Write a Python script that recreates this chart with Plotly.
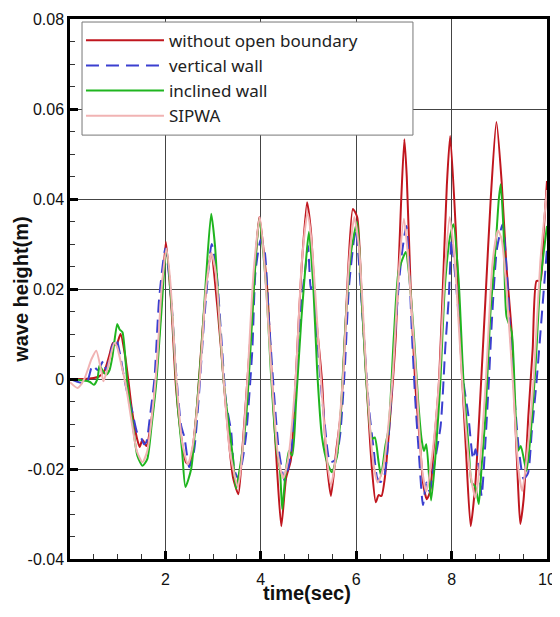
import plotly.graph_objects as go

# ---- data ----
red_t = [0.0, 0.3, 0.6, 0.72, 0.83, 0.9, 0.97, 1.06, 1.15, 1.22, 1.3, 1.4, 1.46, 1.52, 1.6, 1.73, 1.83, 1.91, 2.01,
         2.12, 2.22, 2.33, 2.43, 2.5, 2.57, 2.67, 2.77, 2.88, 2.96,
         3.09, 3.23, 3.34, 3.42, 3.53, 3.61, 3.71, 3.82, 3.92, 3.97,
         4.13, 4.24, 4.34, 4.43, 4.53, 4.63, 4.74, 4.85, 4.97,
         5.05, 5.15, 5.28, 5.37, 5.47, 5.58, 5.68, 5.78, 5.93,
         6.02, 6.12, 6.22, 6.33, 6.41, 6.47, 6.53, 6.6, 6.68, 6.83, 6.94, 7.01,
         7.06, 7.14, 7.24, 7.35, 7.4, 7.48, 7.55, 7.62, 7.73, 7.83, 7.9, 7.97,
         8.09, 8.19, 8.3, 8.4, 8.5, 8.6, 8.71, 8.82, 8.94,
         9.05, 9.15, 9.26, 9.33, 9.39, 9.44, 9.51, 9.61, 9.7, 9.78, 9.86, 9.93, 10.0]
red_y = [0.0, 0.0, 0.0005, 0.0018, 0.0055, 0.008, 0.0075, 0.010, 0.0055, 0.0, -0.007, -0.013, -0.0151, -0.0135, -0.0149, -0.0073, 0.0038, 0.016, 0.0305,
         0.017, -0.0015, -0.0127, -0.0185, -0.019, -0.0155, -0.005, 0.0096, 0.023, 0.028,
         0.016, -0.0015, -0.015, -0.022, -0.0256, -0.016, -0.0015, 0.015, 0.031, 0.036,
         0.0207, -0.0015, -0.02, -0.0327, -0.022, -0.018, 0.0016, 0.024, 0.0393,
         0.033, 0.015, 0.0, -0.017, -0.026, -0.016, -0.0073, 0.013, 0.0378,
         0.036, 0.017, -0.0015, -0.02, -0.0274, -0.0258, -0.026, -0.022, -0.0127, 0.0096, 0.039, 0.0533,
         0.045, 0.0207, -0.0015, -0.016, -0.023, -0.0267, -0.025, -0.016, -0.0015, 0.024, 0.043, 0.054,
         0.0327, 0.0067, -0.0156, -0.0327, -0.023, -0.0044, 0.0178, 0.040, 0.0571,
         0.0437, 0.025, 0.0104, -0.0082, -0.023, -0.0322, -0.0267, -0.008, 0.0067, 0.0218, 0.0218, 0.0327, 0.044]

blue_t = [0.0, 0.34, 0.47, 0.58, 0.7, 0.76, 0.89, 0.97, 1.04, 1.14, 1.2, 1.3, 1.41, 1.5, 1.55, 1.6, 1.68, 1.77, 1.87, 2.0,
          2.12, 2.22, 2.33, 2.4, 2.5, 2.6, 2.7, 2.82, 2.97,
          3.07, 3.17, 3.27, 3.38, 3.44, 3.52, 3.6, 3.69, 3.82, 3.89, 4.0,
          4.08, 4.17, 4.28, 4.38, 4.5, 4.57, 4.64, 4.74, 4.85, 4.95, 4.99,
          5.05, 5.1, 5.18, 5.26, 5.35, 5.4, 5.45, 5.56, 5.66, 5.76, 5.85, 5.99,
          6.05, 6.16, 6.27, 6.37, 6.44, 6.51, 6.58, 6.68, 6.79, 6.89, 6.96, 7.05,
          7.1, 7.17, 7.24, 7.31, 7.4, 7.47, 7.54, 7.62, 7.77, 7.87, 7.94, 8.0,
          8.04, 8.15, 8.25, 8.35, 8.45, 8.5, 8.57, 8.63, 8.7, 8.78, 8.85, 8.95, 9.07,
          9.15, 9.23, 9.32, 9.41, 9.51, 9.6, 9.68, 9.78, 9.89, 10.0]
blue_y = [0.0, -0.001, 0.003, 0.002, 0.004, 0.002, 0.0074, 0.009, 0.006, 0.0, -0.003, -0.007, -0.012, -0.0133, -0.0145, -0.014, -0.008, 0.0, 0.018, 0.029,
          0.018, 0.002, -0.0104, -0.013, -0.0196, -0.016, -0.004, 0.014, 0.030,
          0.024, 0.0096, -0.005, -0.0118, -0.020, -0.022, -0.019, -0.0127, 0.006, 0.024, 0.031,
          0.0285, 0.0133, -0.0037, -0.016, -0.0227, -0.020, -0.016, 0.0, 0.017, 0.026, 0.0296,
          0.020, 0.0215, 0.0096, -0.0015, -0.011, -0.016, -0.0185, -0.018, -0.0127, 0.0022, 0.0207, 0.0333,
          0.027, 0.0096, -0.0067, -0.016, -0.022, -0.0229, -0.022, -0.0127, 0.006, 0.0207, 0.028, 0.034,
          0.027, 0.0096, -0.005, -0.016, -0.028, -0.023, -0.025, -0.020, -0.0104, 0.0074, 0.018, 0.031,
          0.027, 0.014, -0.0007, -0.008, -0.0178, -0.0156, -0.0193, -0.026, -0.0156, -0.0007, 0.014, 0.0289, 0.0344,
          0.025, 0.0104, -0.0044, -0.0156, -0.0222, -0.021, -0.0118, -0.0007, 0.014, 0.0289]

green_t = [0.0, 0.41, 0.5, 0.575, 0.62, 0.7, 0.76, 0.83, 0.89, 0.99, 1.04, 1.1, 1.2, 1.31, 1.41, 1.52, 1.62, 1.71, 1.81, 1.91, 2.02,
           2.15, 2.25, 2.35, 2.42, 2.54, 2.64, 2.75, 2.85, 2.96,
           3.04, 3.13, 3.23, 3.34, 3.42, 3.48, 3.58, 3.69, 3.8, 3.9, 3.97,
           4.11, 4.22, 4.32, 4.4, 4.45, 4.51, 4.59, 4.66, 4.74, 4.85, 4.95, 5.01,
           5.1, 5.18, 5.28, 5.39, 5.49, 5.6, 5.69, 5.78, 5.89, 6.02,
           6.12, 6.22, 6.33, 6.39, 6.47, 6.52, 6.61, 6.68, 6.79, 6.89, 7.04,
           7.1, 7.21, 7.3, 7.37, 7.42, 7.47, 7.57, 7.67, 7.76, 7.86, 7.97, 8.04,
           8.15, 8.25, 8.36, 8.42, 8.5, 8.57, 8.63, 8.71, 8.81, 8.92, 8.99, 9.03,
           9.09, 9.15, 9.26, 9.33, 9.39, 9.45, 9.57, 9.66, 9.76, 9.86, 10.0]
green_y = [0.0, -0.0006, -0.0013, 0.0, 0.003, 0.0016, 0.001, 0.002, 0.005, 0.0122, 0.011, 0.0104, -0.0007, -0.0096, -0.017, -0.0193, -0.0178, -0.0104, -0.0007, 0.014, 0.0289,
           0.0133, -0.005, -0.016, -0.024, -0.020, -0.0089, 0.006, 0.0222, 0.0367,
           0.0296, 0.0133, -0.0015, -0.011, -0.0178, -0.0244, -0.0185, -0.0089, 0.0096, 0.028, 0.0356,
           0.0207, 0.0, -0.0149, -0.020, -0.029, -0.022, -0.016, -0.017, -0.005, 0.0133, 0.0267, 0.0327,
           0.0207, 0.0022, -0.0127, -0.0185, -0.0207, -0.017, -0.005, 0.0133, 0.028, 0.0349,
           0.017, -0.0015, -0.0133, -0.013, -0.0185, -0.0215, -0.0149, -0.011, 0.0096, 0.024, 0.0282,
           0.024, 0.0096, -0.005, -0.0133, -0.016, -0.0145, -0.027, -0.016, -0.0015, 0.0207, 0.0318, 0.0344,
           0.0215, -0.0007, -0.0156, -0.023, -0.024, -0.0278, -0.0193, -0.0082, 0.014, 0.0289, 0.040, 0.0433,
           0.0327, 0.014, 0.0104, -0.0044, -0.016, -0.0149, -0.0204, -0.0118, 0.003, 0.0215, 0.034]

pink_t = [0.0, 0.16, 0.3, 0.45, 0.55, 0.66, 0.7, 0.78, 0.93, 0.99, 1.08, 1.18, 1.3, 1.4, 1.52, 1.62, 1.72, 1.82, 1.92, 2.02,
          2.1, 2.23, 2.35, 2.47, 2.57, 2.72, 2.85, 2.96,
          3.05, 3.22, 3.35, 3.52, 3.6, 3.72, 3.85, 3.98,
          4.08, 4.23, 4.36, 4.47, 4.57, 4.73, 4.86, 4.98,
          5.06, 5.26, 5.38, 5.47, 5.58, 5.72, 5.85, 5.96,
          6.06, 6.22, 6.35, 6.45, 6.56, 6.76, 6.88, 7.0,
          7.08, 7.26, 7.38, 7.47, 7.58, 7.74, 7.86, 7.96,
          8.06, 8.22, 8.38, 8.5, 8.6, 8.72, 8.86, 8.97,
          9.05, 9.15, 9.28, 9.4, 9.48, 9.58, 9.72, 9.86, 10.0]
pink_y = [-0.0007, -0.002, 0.0, 0.0044, 0.0063, 0.0015, -0.0005, 0.002, 0.008, 0.007, 0.003, -0.002, -0.010, -0.016, -0.0185, -0.016, -0.008, 0.003, 0.020, 0.029,
          0.022, 0.0, -0.014, -0.019, -0.015, 0.0, 0.020, 0.028,
          0.024, 0.0, -0.016, -0.024, -0.018, 0.0, 0.024, 0.036,
          0.025, 0.0, -0.017, -0.022, -0.018, 0.0, 0.026, 0.037,
          0.031, 0.0, -0.017, -0.0236, -0.017, 0.0, 0.026, 0.036,
          0.029, 0.0, -0.018, -0.023, -0.020, 0.0, 0.022, 0.0356,
          0.028, 0.0, -0.020, -0.025, -0.018, 0.0, 0.024, 0.036,
          0.027, 0.0, -0.020, -0.0264, -0.018, 0.0, 0.026, 0.033,
          0.031, 0.020, 0.0, -0.020, -0.0249, -0.017, 0.0, 0.026, 0.042]

series_names = ["without open boundary", "vertical wall", "inclined wall", "SIPWA"]
x_tick_vals = [2, 4, 6, 8, 10]
x_tick_text = ["2", "4", "6", "8", "10"]
y_tick_vals = [-0.04, -0.02, 0, 0.02, 0.04, 0.06, 0.08]
y_tick_text = ["-0.04", "-0.02", "0", "0.02", "0.04", "0.06", "0.08"]
x_title = "time(sec)"
y_title = "wave height(m)"

fig = go.Figure()
styles = [
    (red_t, red_y, "#c0161e", "solid", 2.0),
    (blue_t, blue_y, "#3b3fd0", "13px,7px", 2.0),
    (green_t, green_y, "#1fb51f", "solid", 2.0),
    (pink_t, pink_y, "#f1b3b3", "solid", 2.0),
]
for name, (t, y, c, d, w) in zip(series_names, styles):
    fig.add_trace(go.Scatter(x=t, y=y, mode="lines", name=name,
                             line=dict(color=c, dash=d, width=w, shape="spline", smoothing=0.6)))

sans = "Liberation Sans, Arial, sans-serif"
tickfont = dict(family=sans, size=16, color="#111")
titlefont = dict(family=sans, size=20, color="#111")
fig.update_layout(
    width=560, height=617,
    margin=dict(l=62, r=21, t=11, b=66),
    paper_bgcolor="white", plot_bgcolor="white",
    showlegend=True,
    legend=dict(x=0.023, y=0.993, xanchor="left", yanchor="top",
                bgcolor="rgba(0,0,0,0)", borderwidth=0,
                font=dict(family="Noto Sans, sans-serif", size=17, color="#222"),
                itemwidth=78, tracegroupgap=0,
                traceorder="normal"),
    xaxis=dict(range=[0, 10], tickvals=x_tick_vals, ticktext=x_tick_text, automargin=False,
               showgrid=True, gridcolor="#444", gridwidth=1,
               showline=True, linecolor="black", linewidth=2.5, mirror=True,
               ticks="inside", ticklen=8, tickwidth=3, tickcolor="black", ticklabelstandoff=4,
               minor=dict(dtick=0.5, tick0=0, ticks="inside", ticklen=5, tickwidth=1, tickcolor="#333", showgrid=False),
               tickfont=tickfont, zeroline=False),
    yaxis=dict(range=[-0.04, 0.08], tickvals=y_tick_vals, ticktext=y_tick_text, automargin=False,
               showgrid=True, gridcolor="#444", gridwidth=1,
               showline=True, linecolor="black", linewidth=2.5, mirror=True,
               ticks="inside", ticklen=8, tickwidth=3, tickcolor="black",
               minor=dict(dtick=0.005, tick0=0, ticks="inside", ticklen=5, tickwidth=1, tickcolor="#333", showgrid=False),
               tickfont=tickfont, zeroline=False),
)
# legend frame (wider than the legend content, as in the reference)
fig.add_shape(type="rect", xref="paper", yref="paper", x0=0.0252, x1=0.719, y0=0.785, y1=0.9944,
              fillcolor="white", line=dict(color="#777", width=1), layer="above")
fig.add_annotation(text="<b>" + x_title + "</b>", xref="paper", yref="paper", x=0.496, y=-0.063,
                   xanchor="center", yanchor="middle", showarrow=False, font=titlefont)
fig.add_annotation(text="<b>" + y_title + "</b>", xref="paper", yref="paper", x=-0.103, y=0.5,
                   xanchor="center", yanchor="middle", showarrow=False, textangle=-90, font=titlefont)

fig.write_html("out.html")
